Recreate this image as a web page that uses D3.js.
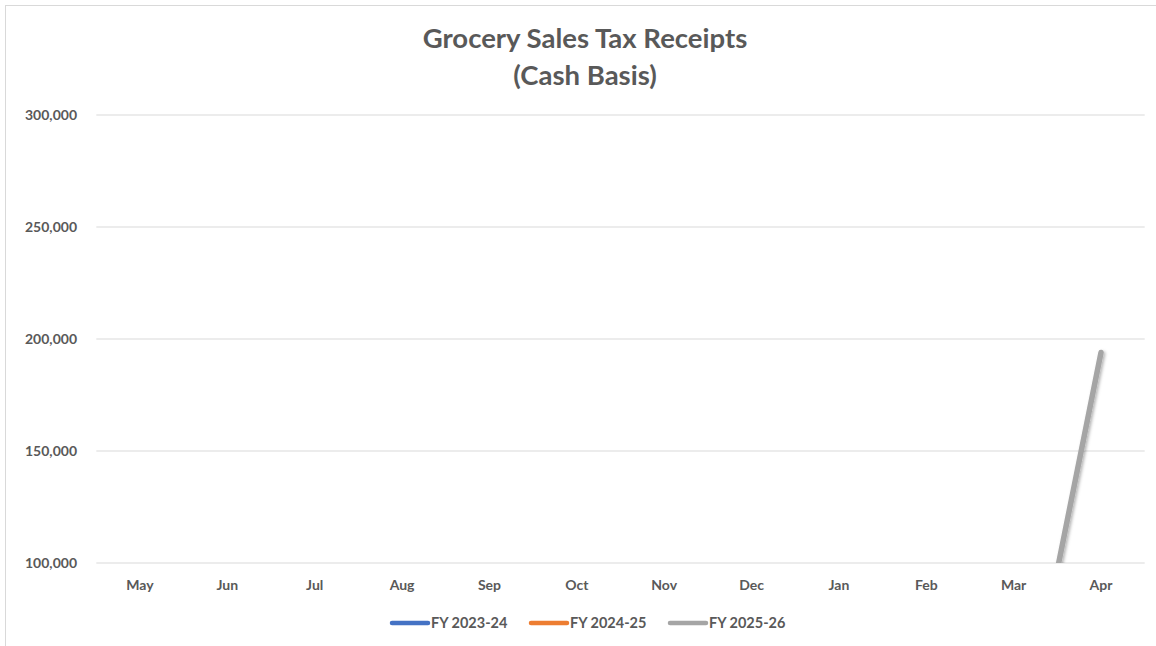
<!DOCTYPE html>
<html>
<head>
<meta charset="utf-8">
<script src="https://cdn.jsdelivr.net/npm/d3@7"></script>
<style>
  body { margin: 0; background: #fff; }
  text { font-family: Lato, "Open Sans", sans-serif; fill: #595959; font-weight: bold; }
</style>
</head>
<body>
<svg width="1156" height="646"></svg>
<script>
// chart data
var months = ['May', 'Jun', 'Jul', 'Aug', 'Sep', 'Oct', 'Nov', 'Dec', 'Jan', 'Feb', 'Mar', 'Apr'];
var seriesNames = ['FY 2023-24', 'FY 2024-25', 'FY 2025-26'];
var fy2324 = [null, null, null, null, null, null, null, null, null, null, null, null];
var fy2425 = [null, null, null, null, null, null, null, null, null, null, null, null];
var fy2526 = [null, null, null, null, null, null, null, null, null, null, 0, 194000];
var yTicks = [100000, 150000, 200000, 250000, 300000];
var colors = ['#4472c4', '#ed7d31', '#a5a5a5'];

var plotLeft = 96.3, plotRight = 1144.7, plotTop = 115, plotBottom = 563;

var svg = d3.select('svg');

// chart frame
svg.append('rect')
  .attr('x', 5.5).attr('y', 5.5)
  .attr('width', 1200).attr('height', 700)
  .attr('fill', 'none').attr('stroke', '#d9d9d9');

var xScale = d3.scaleBand().domain(months).range([plotLeft, plotRight]);
var yScale = d3.scaleLinear().domain([100000, 300000]).range([plotBottom, plotTop]);

// gridlines
svg.append('g')
  .selectAll('line')
  .data(yTicks)
  .enter()
  .append('line')
  .attr('x1', plotLeft).attr('x2', plotRight)
  .attr('y1', (d) => yScale(d)).attr('y2', (d) => yScale(d))
  .attr('stroke', '#d9d9d9')
  .attr('stroke-width', 1);

// y labels
svg.append('g')
  .selectAll('text')
  .data(yTicks)
  .enter()
  .append('text')
  .attr('x', 77)
  .attr('y', (d) => yScale(d))
  .attr('dy', '0.35em')
  .attr('text-anchor', 'end')
  .attr('font-size', 14)
  .text(d3.format(','));

// x labels
svg.append('g')
  .selectAll('text')
  .data(months)
  .enter()
  .append('text')
  .attr('x', (d) => xScale(d) + xScale.bandwidth() / 2)
  .attr('y', 590)
  .attr('text-anchor', 'middle')
  .attr('font-size', 14)
  .text((d) => d);

// title
svg.append('text')
  .attr('x', 585).attr('y', 48)
  .attr('text-anchor', 'middle')
  .attr('font-size', 27.5)
  .text('Grocery Sales Tax Receipts');
svg.append('text')
  .attr('x', 585).attr('y', 85)
  .attr('text-anchor', 'middle')
  .attr('font-size', 27.5)
  .text('(Cash Basis)');

// lines
var defs = svg.append('defs');
defs.append('clipPath').attr('id', 'plot')
  .append('rect')
  .attr('x', plotLeft).attr('y', plotTop)
  .attr('width', plotRight - plotLeft).attr('height', plotBottom - plotTop);
var shadow = defs.append('filter').attr('id', 'shadow')
  .attr('x', '-50%').attr('y', '-10%').attr('width', '200%').attr('height', '120%');
shadow.append('feDropShadow')
  .attr('dx', 1.5).attr('dy', 1.5).attr('stdDeviation', 1.5)
  .attr('flood-color', '#000').attr('flood-opacity', 0.3);

var line = d3.line()
  .defined((d) => d !== null)
  .x((d, i) => xScale(months[i]) + xScale.bandwidth() / 2)
  .y((d) => yScale(d));

var allSeries = [fy2324, fy2425, fy2526];
svg.append('g')
  .attr('clip-path', 'url(#plot)')
  .selectAll('path')
  .data(allSeries)
  .enter()
  .append('path')
  .attr('d', (d) => line(d))
  .attr('fill', 'none')
  .attr('stroke', (d, i) => colors[i])
  .attr('stroke-width', 5.5)
  .attr('stroke-linecap', 'round')
  .attr('filter', 'url(#shadow)');

// legend
var legendX = [390, 529, 668];
var legend = svg.append('g')
  .selectAll('g')
  .data(seriesNames)
  .enter()
  .append('g')
  .attr('transform', (d, i) => 'translate(' + legendX[i] + ',623)');
legend.append('line')
  .attr('x1', 2).attr('x2', 38)
  .attr('stroke', (d, i) => colors[i])
  .attr('stroke-width', 4.5)
  .attr('stroke-linecap', 'round');
legend.append('text')
  .attr('x', 41)
  .attr('dy', '0.35em')
  .attr('font-size', 14.5)
  .text((d) => d);
</script>
</body>
</html>
